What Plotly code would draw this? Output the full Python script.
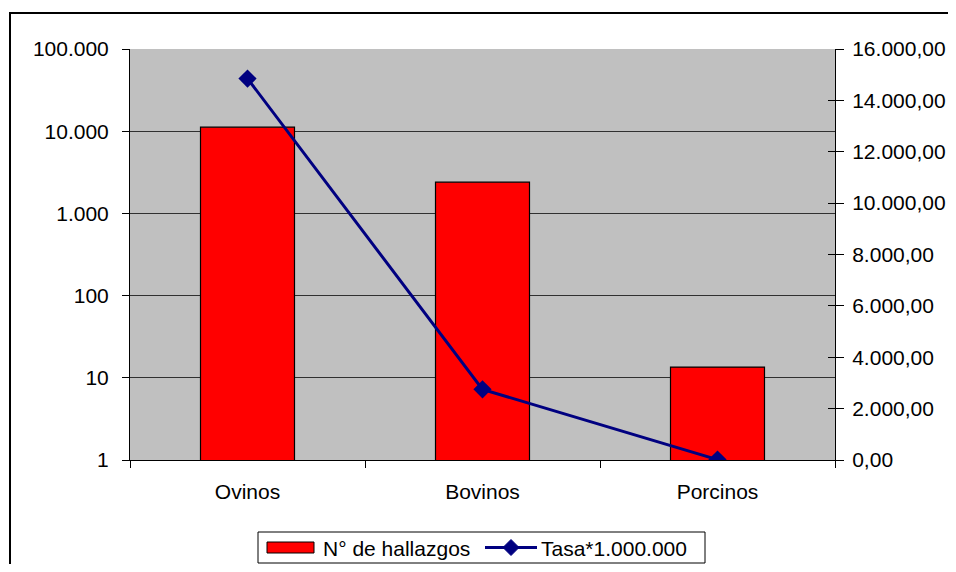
import plotly.graph_objects as go

categories = ["Ovinos", "Bovinos", "Porcinos"]
hallazgos = [11200, 2400, 13.5]
tasa = [14850, 2750, 15]
left_ticks = [1, 10, 100, 1000, 10000, 100000]
right_ticks = [0, 2000, 4000, 6000, 8000, 10000, 12000, 14000, 16000]
bar_name = "N° de hallazgos"
line_name = "Tasa*1.000.000"

FONT = "Liberation Sans, Arial, sans-serif"
OFF = 8  # default page body margin
W, H = 956 - OFF, 572 - 2 * OFF
# plot area in page pixels
L, R, T, B = 130, 835, 49, 460


def px(x):
    return (x - L) / (R - L)


def py(y):
    return (B - y) / (B - T)


fig = go.Figure()
fig.add_trace(go.Bar(
    x=categories, y=hallazgos, name=bar_name,
    marker=dict(color="#FF0000", line=dict(color="#000000", width=1.2)),
    width=0.4, yaxis="y", showlegend=False,
))
fig.add_trace(go.Scatter(
    x=categories, y=tasa, name=line_name, yaxis="y2",
    mode="lines+markers",
    line=dict(color="#000080", width=3),
    marker=dict(symbol="diamond", size=14, color="#000080"),
    showlegend=False,
))
fig.add_trace(go.Scatter(x=[], y=[], yaxis="y3", showlegend=False, hoverinfo="skip"))

shapes = [
    dict(type="rect", xref="paper", yref="paper",
         x0=px(10), x1=px(975), y0=py(600), y1=py(13),
         line=dict(color="#000000", width=2), fillcolor="rgba(0,0,0,0)", layer="above"),
    dict(type="rect", xref="paper", yref="paper",
         x0=px(258), x1=px(705), y0=py(563), y1=py(532),
         line=dict(color="#000000", width=1), fillcolor="white", layer="above"),
    dict(type="rect", xref="paper", yref="paper",
         x0=px(267), x1=px(314), y0=py(553), y1=py(542),
         line=dict(color="#000000", width=1), fillcolor="#FF0000", layer="above"),
    dict(type="line", xref="paper", yref="paper",
         x0=px(485), x1=px(537), y0=py(547.5), y1=py(547.5),
         line=dict(color="#000080", width=3), layer="above"),
    dict(type="path", xref="paper", yref="paper",
         path=(f"M {px(511)} {py(539.5)} L {px(519)} {py(547.5)} "
               f"L {px(511)} {py(555.5)} L {px(503)} {py(547.5)} Z"),
         line=dict(color="#000080", width=1), fillcolor="#000080", layer="above"),
]
annotations = [
    dict(text=bar_name, xref="paper", yref="paper", x=px(321), y=py(548),
         xanchor="left", yanchor="middle", showarrow=False, font=dict(size=21)),
    dict(text=line_name, xref="paper", yref="paper", x=px(539), y=py(548),
         xanchor="left", yanchor="middle", showarrow=False, font=dict(size=21)),
]

fig.update_layout(
    width=W, height=H,
    margin=dict(l=L - OFF, r=(W + OFF) - R, t=T - OFF, b=(H + OFF) - B, pad=0),
    paper_bgcolor="white", plot_bgcolor="#C0C0C0",
    separators=",.",
    font=dict(family=FONT, size=21, color="#000000"),
    showlegend=False,
    xaxis=dict(type="category", showline=True, linecolor="#000000", linewidth=1,
               ticks="outside", tickson="boundaries", ticklen=7, tickcolor="#000000",
               showgrid=False, tickfont=dict(size=21), automargin=False,
               ticklabelstandoff=13),
    yaxis=dict(type="log", range=[0, 5], tickvals=left_ticks, tickformat=",d",
               showline=True, linecolor="#000000", linewidth=1,
               ticks="outside", ticklen=7, tickcolor="#000000",
               showgrid=True, gridcolor="#303030", gridwidth=1,
               tickfont=dict(size=21), zeroline=False, automargin=False,
               ticklabelstandoff=9),
    yaxis2=dict(overlaying="y", side="right", range=[0, 16000], tickvals=right_ticks,
                tickformat=",.2f", showline=True, linecolor="#000000", linewidth=1,
                ticks="outside", ticklen=8, tickcolor="#000000",
                showgrid=False, zeroline=False, tickfont=dict(size=21), automargin=False,
                ticklabelstandoff=4),
    yaxis3=dict(overlaying="y", side="right", range=[0, 16000], tickvals=right_ticks,
                showticklabels=False, ticks="inside", ticklen=7, tickcolor="#000000",
                showline=False, showgrid=False, zeroline=False, automargin=False),
    shapes=shapes,
    annotations=annotations,
)

fig.write_html("out.html")
